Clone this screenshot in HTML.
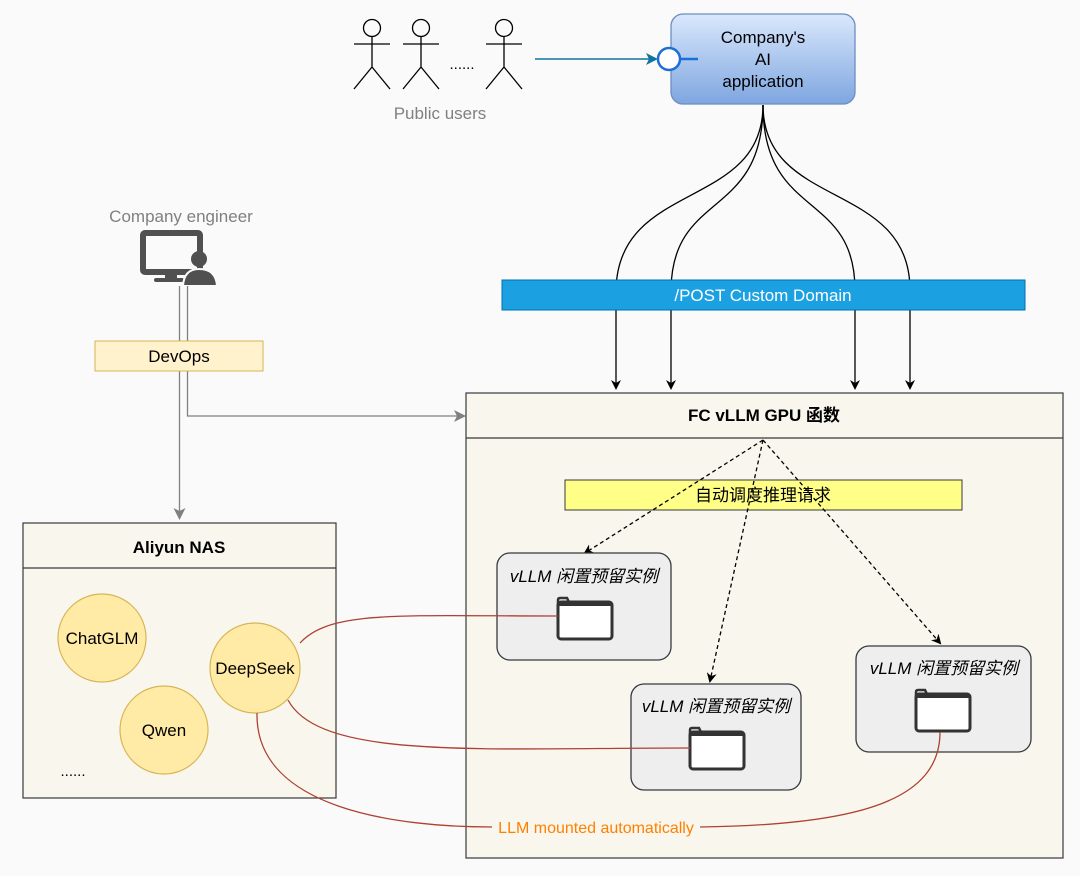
<!DOCTYPE html>
<html><head><meta charset="utf-8"><style>
html,body{margin:0;padding:0;background:#fafafa;}
svg{display:block;font-family:"Liberation Sans","Noto Sans CJK SC",sans-serif;}
</style></head><body>
<svg width="1080" height="876" viewBox="0 0 1080 876" xmlns="http://www.w3.org/2000/svg">
<defs>
<linearGradient id="g" x1="0" y1="0" x2="0" y2="1"><stop offset="0" stop-color="#dae8fc"/><stop offset="1" stop-color="#7ea6e0"/></linearGradient>
<marker id="ab" markerWidth="10" markerHeight="10" refX="8" refY="5" orient="auto" markerUnits="userSpaceOnUse"><path d="M0,0 L10,5 L0,10 L3,5Z" fill="#000"/></marker>
<marker id="at" markerWidth="12" markerHeight="12" refX="10" refY="6" orient="auto" markerUnits="userSpaceOnUse"><path d="M0,0 L12,6 L0,12 L3,6Z" fill="#10739e"/></marker>
<marker id="ag" markerWidth="12" markerHeight="12" refX="10" refY="6" orient="auto" markerUnits="userSpaceOnUse"><path d="M0,0 L12,6 L0,12 L3,6Z" fill="#808080"/></marker>
<g id="actor" fill="none" stroke="#000" stroke-width="1.3"><circle cx="0" cy="28" r="8.5"/><path d="M0,37 V67 M-18,44 H18 M0,67 L-18,89 M0,67 L18,89"/></g>
<g id="folder"><rect x="0" y="4" width="54" height="37" rx="3" fill="#fff" stroke="#333" stroke-width="3"/><path d="M0,6 V2 Q0,0 2,0 H9 L11,4" fill="none" stroke="#333" stroke-width="2.5"/><rect x="0" y="4" width="54" height="4" fill="#333"/></g>
</defs>
<use href="#actor" x="372" y="0"/>
<use href="#actor" x="421" y="0"/>
<use href="#actor" x="504" y="0"/>
<text x="462" y="69" font-size="15" text-anchor="middle">......</text>
<text x="440" y="119" font-size="17" fill="#808080" text-anchor="middle">Public users</text>
<line x1="535" y1="59" x2="656" y2="59" stroke="#10739e" stroke-width="1.5" marker-end="url(#at)"/>
<rect x="671" y="14" width="184" height="90" rx="12" fill="url(#g)" stroke="#6c8ebf" stroke-width="1.3"/>
<circle cx="669" cy="59" r="11" fill="#fff" stroke="#1c6fd6" stroke-width="2.5"/>
<line x1="680" y1="59" x2="698" y2="59" stroke="#1c6fd6" stroke-width="2.5"/>
<g font-size="17" text-anchor="middle"><text x="763" y="43">Company's</text><text x="763" y="65">AI</text><text x="763" y="87">application</text></g>
<g fill="none" stroke="#000" stroke-width="1.3" marker-end="url(#ab)">
<path d="M763,105 C763,210 618,180 616,290 V388"/>
<path d="M763,105 C763,220 672,190 671,290 V388"/>
<path d="M763,105 C763,220 855,190 855,290 V388"/>
<path d="M763,105 C763,210 910,180 910,290 V388"/>
</g>
<rect x="502" y="280" width="523" height="30" fill="#1ba1e2" stroke="#006eaf"/>
<text x="763" y="301" font-size="17" fill="#fff" text-anchor="middle">/POST Custom Domain</text>
<text x="181" y="222" font-size="17" fill="#808080" text-anchor="middle">Company engineer</text>
<rect x="143" y="233" width="57" height="39" rx="2" fill="none" stroke="#505050" stroke-width="6"/>
<rect x="165" y="272" width="12" height="8" fill="#505050"/>
<rect x="154" y="278" width="30" height="4" rx="2" fill="#505050"/>
<circle cx="199" cy="259" r="8" fill="#505050"/>
<path d="M183,286 Q184,269 199,269 Q216,269 217,286Z" fill="#505050" stroke="#fafafa" stroke-width="2"/>
<g fill="none" stroke="#808080" stroke-width="1.3">
<path d="M179.5,286 V518" marker-end="url(#ag)"/>
<path d="M187.5,286 V416 H464" marker-end="url(#ag)"/>
</g>
<rect x="95" y="341" width="168" height="30" fill="#fff2cc" stroke="#d6b656"/>
<text x="179" y="362" font-size="17" text-anchor="middle">DevOps</text>
<rect x="466" y="393" width="597" height="465" fill="#f9f7ed" stroke="#36393d" stroke-width="1.2"/>
<line x1="466" y1="438" x2="1063" y2="438" stroke="#36393d" stroke-width="1.2"/>
<text x="764" y="421" font-size="17" font-weight="bold" text-anchor="middle">FC vLLM GPU 函数</text>
<rect x="565" y="480" width="397" height="30" fill="#ffff88" stroke="#36393d"/>
<text x="763" y="501" font-size="17" text-anchor="middle">自动调度推理请求</text>
<g fill="none" stroke="#000" stroke-width="1.3" stroke-dasharray="4,3" marker-end="url(#ab)">
<path d="M763,440 L585,553"/>
<path d="M763,440 L710,681"/>
<path d="M763,440 L940,643"/>
</g>
<g fill="#eeeeee" stroke="#36393d" stroke-width="1.3">
<rect x="497" y="553" width="174" height="107" rx="13"/>
<rect x="631" y="684" width="170" height="106" rx="13"/>
<rect x="856" y="646" width="175" height="106" rx="13"/>
</g>
<g font-size="17" font-style="italic" text-anchor="middle">
<text x="584" y="582">vLLM 闲置预留实例</text>
<text x="716" y="712">vLLM 闲置预留实例</text>
<text x="944" y="674">vLLM 闲置预留实例</text>
</g>
<use href="#folder" x="558" y="598"/>
<use href="#folder" x="690" y="728"/>
<use href="#folder" x="916" y="690"/>
<rect x="23" y="523" width="313" height="275" fill="#f9f7ed" stroke="#36393d" stroke-width="1.2"/>
<line x1="23" y1="568" x2="336" y2="568" stroke="#36393d" stroke-width="1.2"/>
<text x="179" y="553" font-size="17" font-weight="bold" text-anchor="middle">Aliyun NAS</text>
<g fill="#ffeba6" stroke="#d6b656" stroke-width="1.2">
<circle cx="102" cy="638" r="44"/><circle cx="164" cy="730" r="44"/><circle cx="255" cy="668" r="45"/>
</g>
<g font-size="17" text-anchor="middle"><text x="102" y="644">ChatGLM</text><text x="164" y="736">Qwen</text><text x="255" y="674">DeepSeek</text></g>
<text x="73" y="776" font-size="15" text-anchor="middle">......</text>
<g fill="none" stroke="#ae4132" stroke-width="1.3">
<path d="M300,643 C330,610 400,616 558,616"/>
<path d="M288,700 C320,760 480,748 690,748"/>
<path d="M257,713 C255,810 400,827 492,827"/>
<path d="M700,827 C860,825 940,800 940,732"/>
</g>
<text x="596" y="833" font-size="16" fill="#ff8000" text-anchor="middle">LLM mounted automatically</text>
</svg>
</body></html>
